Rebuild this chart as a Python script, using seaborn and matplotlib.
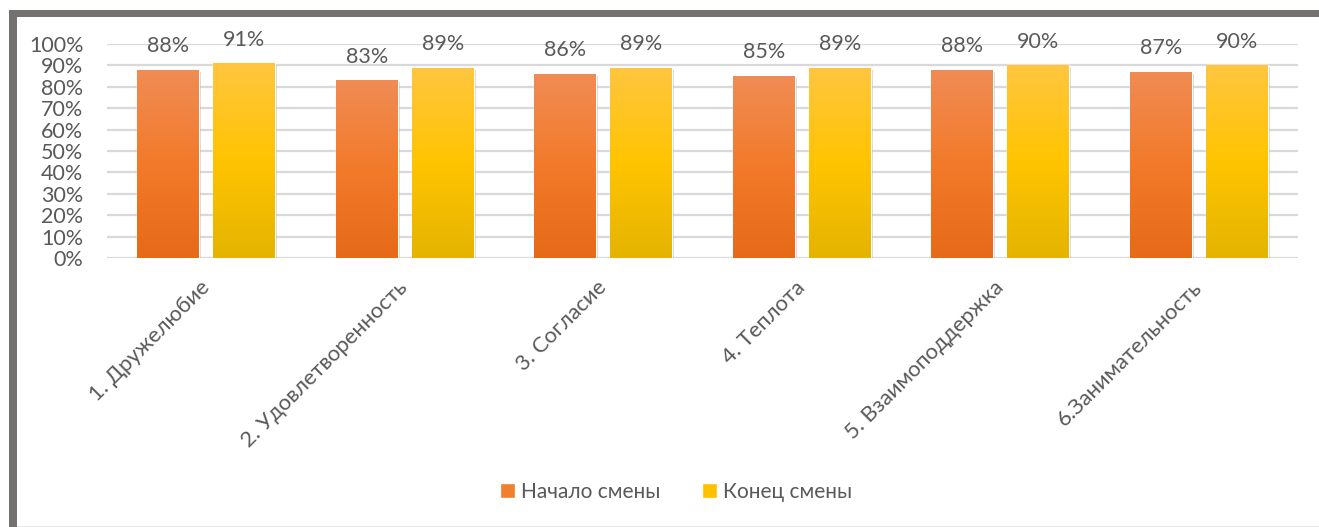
import numpy as np
import pandas as pd
import matplotlib
matplotlib.use("Agg")
import matplotlib.pyplot as plt
import matplotlib.patheffects as pe
from matplotlib.colors import LinearSegmentedColormap
from matplotlib.patches import Rectangle
import seaborn as sns

# данные
categories = ["1. Дружелюбие", "2. Удовлетворенность", "3. Согласие",
              "4. Теплота", "5. Взаимоподдержка", "6.Занимательность"]
series_names = ["Начало смены", "Конец смены"]
start_values = [0.88, 0.83, 0.86, 0.85, 0.88, 0.87]
end_values = [0.91, 0.89, 0.89, 0.89, 0.90, 0.90]
y_ticks = [0, 0.1, 0.2, 0.3, 0.4, 0.5, 0.6, 0.7, 0.8, 0.9, 1.0]

df = pd.DataFrame({
    "cat": categories * 2,
    "series": [series_names[0]] * 6 + [series_names[1]] * 6,
    "value": start_values + end_values,
})

sns.set_theme(style="white")
plt.rcParams["font.family"] = ["Lato", "DejaVu Sans"]
text_color = "#595959"

W, H = 1319, 527
fig = plt.figure(figsize=(W / 100, H / 100), dpi=100)
fig.patch.set_facecolor("white")

ax = fig.add_axes([107 / W, 1 - 258 / H, (1298 - 107) / W, (258 - 44) / H])

palette = {series_names[0]: "#F07F2E", series_names[1]: "#FFC000"}
sns.barplot(data=df, x="cat", y="value", hue="series", palette=palette,
            width=0.766, gap=0.185, ax=ax, legend=False, saturation=1)

ax.set_xlim(-0.5, len(categories) - 0.5)
ax.set_ylim(0, 1.0)
ax.set_yticks(y_ticks)
ax.yaxis.set_major_formatter(matplotlib.ticker.PercentFormatter(1.0, decimals=0))
ax.grid(axis="y", color="#D9D9D9", linewidth=1.6)
ax.set_axisbelow(True)
for s in ax.spines.values():
    s.set_visible(False)
ax.set_xlabel("")
ax.set_ylabel("")
ax.tick_params(axis="y", length=0, pad=17, labelsize=15.5, labelcolor=text_color)
ax.tick_params(axis="x", length=0, pad=19, labelsize=15.8, labelcolor=text_color)
for lab in ax.get_xticklabels():
    lab.set_rotation(45)
    lab.set_ha("right")
    lab.set_va("center")
    lab.set_rotation_mode("anchor")

# градиент на столбцах
grads = {
    0: LinearSegmentedColormap.from_list("o", ["#E66A18", "#F27A2A", "#F08C55"]),
    1: LinearSegmentedColormap.from_list("y", ["#E4B400", "#FFC400", "#FFC640"]),
}
bars = [p for p in ax.patches if isinstance(p, Rectangle)]
n = len(categories)
grad = np.linspace(0, 1, 256).reshape(-1, 1)
for i, bar in enumerate(bars):
    hue_idx = i // n
    x0, y0 = bar.get_x(), bar.get_y()
    w, h = bar.get_width(), bar.get_height()
    bar.set_path_effects([pe.SimplePatchShadow(offset=(1.5, -1.5), shadow_rgbFace="#888888", alpha=0.35),
                          pe.Normal()])
    im = ax.imshow(grad, extent=[x0, x0 + w, y0, y0 + h], origin="lower",
                   cmap=grads[hue_idx], aspect="auto", zorder=bar.get_zorder() + 0.1)
    im.set_clip_path(bar)
    ax.annotate(f"{h * 100:.0f}%", (x0 + w / 2, y0 + h), xytext=(0, 17),
                textcoords="offset points", ha="center", va="center",
                fontsize=15.5, color=text_color, clip_on=False)
ax.set_xlim(-0.5, len(categories) - 0.5)
ax.set_ylim(0, 1.0)

# легенда
handles = [Rectangle((0, 0), 1, 1, facecolor=palette[s]) for s in series_names]
fig.legend(handles, series_names, loc="center", bbox_to_anchor=(676 / W, 1 - 492 / H),
           ncol=2, frameon=False, fontsize=15, handlelength=0.7, handleheight=0.7,
           handletextpad=0.3, columnspacing=2.0, labelcolor=text_color)

# рамка
fig.add_artist(Rectangle((9 / W, 0), 8 / W, 1 - 10 / H, transform=fig.transFigure,
                         facecolor="#767171", edgecolor="none"))
fig.add_artist(Rectangle((9 / W, 1 - 17 / H), 1, 7 / H, transform=fig.transFigure,
                         facecolor="#767171", edgecolor="none"))
fig.add_artist(Rectangle((17 / W, 0), 1, 1.5 / H, transform=fig.transFigure,
                         facecolor="#E7E6E6", edgecolor="none"))

fig.savefig("out.png", dpi=100)
